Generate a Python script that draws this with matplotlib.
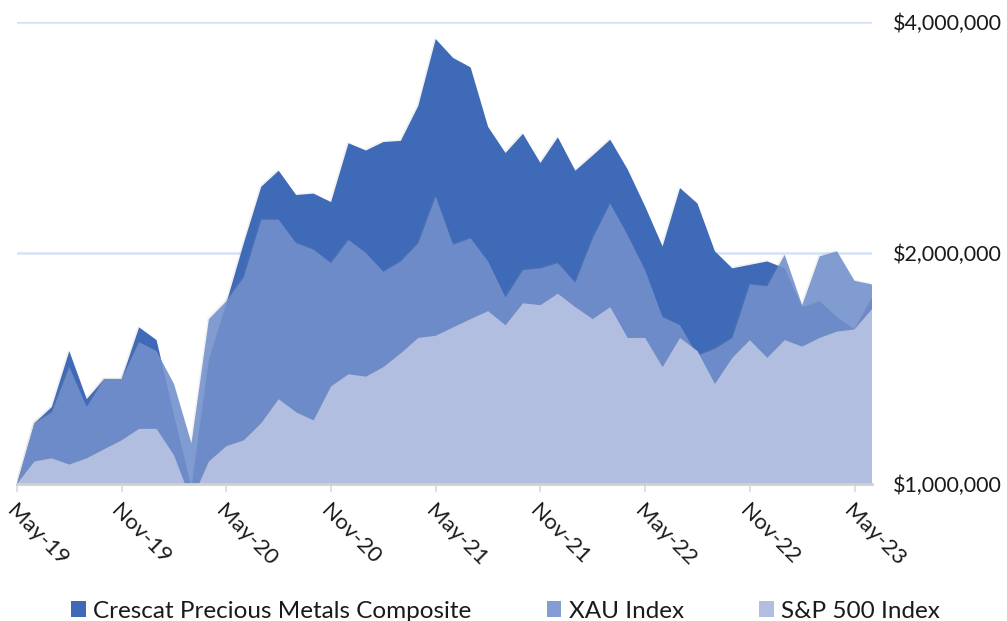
import numpy as np
import pandas as pd
import matplotlib
matplotlib.use("Agg")
import matplotlib.pyplot as plt
import matplotlib.ticker as mticker
import matplotlib.patheffects as pe
from matplotlib.patches import Patch

plt.rcParams['font.family'] = ['Lato', 'DejaVu Sans']

# monthly growth of $1,000,000 (values in $ millions), May-19 .. Jun-23
months = pd.date_range('2019-05-01', periods=50, freq='MS').strftime('%b-%y').tolist()

crescat = [1.00, 1.20, 1.26, 1.49, 1.29, 1.37, 1.37, 1.60, 1.54, 1.23,
           0.99, 1.45, 1.72, 2.06, 2.44, 2.56, 2.38, 2.39, 2.33, 2.78,
           2.72, 2.79, 2.80, 3.11, 3.80, 3.59, 3.49, 2.92, 2.70, 2.86,
           2.62, 2.83, 2.56, 2.68, 2.81, 2.57, 2.30, 2.04, 2.43, 2.32,
           2.01, 1.91, 1.93, 1.95, 1.91, 1.70, 1.73, 1.65, 1.59, 1.75]
xau = [1.00, 1.20, 1.24, 1.42, 1.26, 1.37, 1.37, 1.53, 1.49, 1.35,
       1.13, 1.64, 1.73, 1.86, 2.21, 2.21, 2.06, 2.02, 1.94, 2.08,
       2.00, 1.89, 1.95, 2.06, 2.37, 2.05, 2.09, 1.95, 1.75, 1.90,
       1.91, 1.94, 1.83, 2.09, 2.32, 2.11, 1.90, 1.65, 1.61, 1.47,
       1.50, 1.55, 1.82, 1.81, 1.99, 1.71, 1.98, 2.01, 1.84, 1.82]
sp500 = [1.00, 1.07, 1.08, 1.06, 1.08, 1.11, 1.14, 1.18, 1.18, 1.09,
         0.95, 1.07, 1.12, 1.14, 1.20, 1.29, 1.24, 1.21, 1.34, 1.39,
         1.38, 1.42, 1.48, 1.55, 1.56, 1.60, 1.64, 1.68, 1.61, 1.72,
         1.71, 1.77, 1.70, 1.64, 1.70, 1.55, 1.55, 1.42, 1.55, 1.49,
         1.35, 1.46, 1.54, 1.46, 1.54, 1.51, 1.55, 1.58, 1.59, 1.69]

series = ['Crescat Precious Metals Composite', 'XAU Index', 'S&P 500 Index']
colors = ['#3f6ab7', '#7290cc', '#b2bedf']
alphas = [1.0, 0.88, 1.0]

x = np.arange(len(months))
fig = plt.figure(figsize=(10.07, 6.21), dpi=100)
ax = fig.add_axes([17 / 1007, 1 - 484 / 621, 855 / 1007, 462 / 621])

shadow = [pe.SimplePatchShadow(offset=(-1, 1), shadow_rgbFace='#909090', alpha=0.12), pe.Normal()]
for vals, col, a in zip([crescat, xau, sp500], colors, alphas):
    y = np.array(vals) * 1e6
    ax.fill_between(x, 1e6, y, color=col, alpha=a, linewidth=0, path_effects=shadow)

ax.set_yscale('log', base=2)
ax.set_ylim(1e6, 4e6)
ax.set_xlim(0, len(months) - 1)
ax.set_yticks([1e6, 2e6, 4e6])
ax.yaxis.set_minor_locator(mticker.NullLocator())
ax.yaxis.set_major_formatter(mticker.FuncFormatter(lambda v, p: '${:,.0f}'.format(v)))
ax.yaxis.tick_right()
ax.tick_params(axis='y', length=0, pad=15, labelsize=15.5, labelcolor='#1a1a1a')
for g in [2e6, 4e6]:
    ax.axhline(g, color='#d5e2f4', lw=1.8, zorder=0)

ax.set_xticks(x[::6])
ax.set_xticklabels(months[::6], rotation=-45, ha='left', va='top', rotation_mode='anchor')
ax.tick_params(axis='x', length=6, width=1.2, color='#d9d9d9', pad=6, labelsize=16, labelcolor='#1a1a1a')

for s in ['top', 'left', 'right']:
    ax.spines[s].set_visible(False)
ax.spines['bottom'].set_color('#d0d0d0')
ax.spines['bottom'].set_linewidth(2)
ax.spines['bottom'].set_zorder(5)

handles = [Patch(facecolor=c, alpha=a, edgecolor='none') for c, a in zip(colors, alphas)]
fig.legend(handles, series, loc='center', bbox_to_anchor=(0.502, 0.016), ncol=3, frameon=False,
           fontsize=17.5, handlelength=0.6, handleheight=0.6, handletextpad=0.3, columnspacing=3.1,
           labelcolor='#1a1a1a')

fig.savefig('out.png', dpi=100)
